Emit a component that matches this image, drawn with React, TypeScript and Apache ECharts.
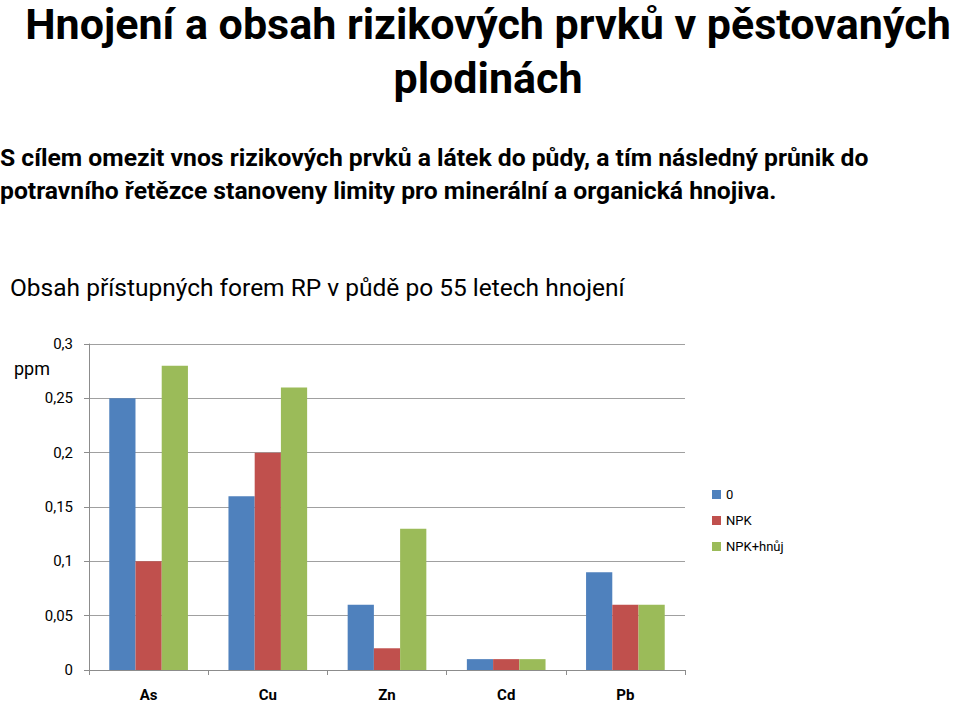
import React, { useEffect, useRef } from "react";
import * as echarts from "echarts";

const categories = ["As", "Cu", "Zn", "Cd", "Pb"];
const seriesNames = ["0", "NPK", "NPK+hnůj"];
const valuesZero = [0.25, 0.16, 0.06, 0.01, 0.09];
const valuesNPK = [0.1, 0.2, 0.02, 0.01, 0.06];
const valuesNPKManure = [0.28, 0.26, 0.13, 0.01, 0.06];
const colors = ["#4F81BD", "#C0504D", "#9BBB59"];

const mainTitle1 = "Hnojení a obsah rizikových prvků v pěstovaných";
const mainTitle2 = "plodinách";
const intro1 = "S cílem omezit vnos rizikových prvků a látek do půdy, a tím následný průnik do";
const intro2 = "potravního řetězce stanoveny limity pro minerální a organická hnojiva.";
const chartTitle = "Obsah přístupných forem RP v půdě po 55 letech hnojení";
const unit = "ppm";

const FONT = "Roboto, 'Noto Sans', sans-serif";

export default function App() {
  const ref = useRef<HTMLDivElement>(null);
  useEffect(() => {
    document.body.style.margin = "0";
    const chart = echarts.init(ref.current!, undefined, { renderer: "svg" });
    const data = [valuesZero, valuesNPK, valuesNPKManure];
    chart.setOption({
      animation: false,
      backgroundColor: "#ffffff",
      textStyle: { fontFamily: FONT },
      graphic: [
        { type: "text", x: 488, y: 2, style: { text: mainTitle1, font: `bold 43px ${FONT}`, fill: "#000", align: "center", verticalAlign: "top" } },
        { type: "text", x: 488, y: 56, style: { text: mainTitle2, font: `bold 43px ${FONT}`, fill: "#000", align: "center", verticalAlign: "top" } },
        { type: "text", left: 0, top: 145, style: { text: intro1, font: `bold 24.7px ${FONT}`, fill: "#000" } },
        { type: "text", left: 0, top: 178, style: { text: intro2, font: `bold 24.7px ${FONT}`, fill: "#000" } },
        { type: "text", left: 10, top: 275, style: { text: chartTitle, font: `24.5px ${FONT}`, fill: "#000" } },
        { type: "text", left: 14, top: 359, style: { text: unit, font: `18px ${FONT}`, fill: "#000" } },
      ],
      legend: {
        orient: "vertical",
        left: 707,
        top: 483,
        itemWidth: 9,
        itemHeight: 9,
        itemGap: 13,
        icon: "rect",
        textStyle: { fontSize: 13, color: "#000", fontFamily: FONT },
        data: seriesNames,
      },
      grid: { left: 89, right: 275, top: 344, bottom: 30, containLabel: false },
      xAxis: {
        type: "category",
        data: categories,
        axisLine: { lineStyle: { color: "#8c8c8c" } },
        axisTick: { show: true, interval: 0, length: 5, lineStyle: { color: "#8c8c8c" } },
        axisLabel: { color: "#000", fontWeight: "bold", fontSize: 15, margin: 17, fontFamily: FONT },
      },
      yAxis: {
        type: "value",
        min: 0,
        max: 0.3,
        interval: 0.05,
        axisLine: { show: true, lineStyle: { color: "#8c8c8c" } },
        axisTick: { show: true, length: 5, lineStyle: { color: "#8c8c8c" } },
        splitLine: { lineStyle: { color: "#a0a0a0" } },
        axisLabel: {
          color: "#000",
          fontSize: 15,
          margin: 16,
          fontFamily: FONT,
          formatter: (v: number) => String(+v.toFixed(2)).replace(".", ","),
        },
      },
      series: seriesNames.map((name, i) => ({
        name,
        type: "bar",
        data: data[i],
        itemStyle: { color: colors[i] },
        barGap: "0%",
        barCategoryGap: "34%",
      })),
    });
    return () => chart.dispose();
  }, []);
  return <div ref={ref} style={{ width: 960, height: 702 }} />;
}
